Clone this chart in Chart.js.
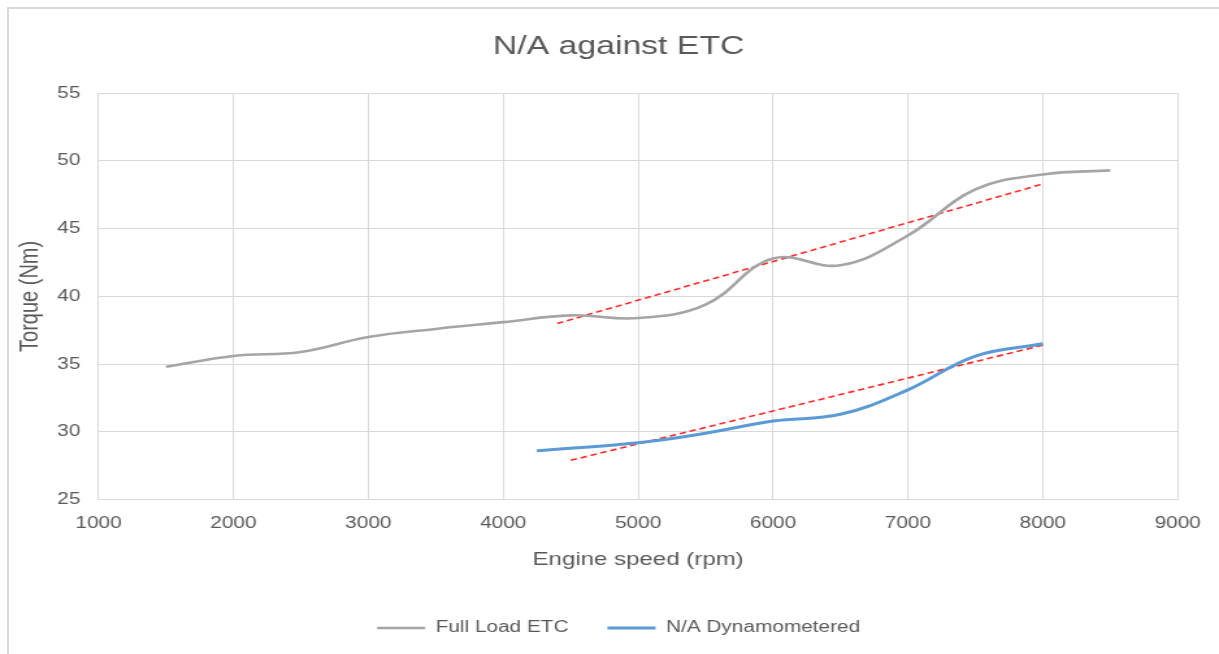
<!DOCTYPE html>
<html>
<head>
<meta charset="utf-8">
<script src="https://cdn.jsdelivr.net/npm/chart.js@4.4.1/dist/chart.umd.min.js"></script>
<style>
  html, body { margin: 0; padding: 0; background: #fff; width: 1219px; height: 654px; overflow: hidden; }
  #frame {
    position: absolute; left: 7px; top: 7px; right: 0; bottom: 0;
    border-top: 2px solid #d9d9d9; border-left: 2px solid #d9d9d9;
  }
  /* chart is laid out narrow, then stretched out to the full width */
  #wrap {
    position: absolute; left: 0; top: 0; width: 938px; height: 654px;
    transform: scaleX(1.2996); transform-origin: 0 0;
  }
</style>
</head>
<body>
<div id="frame"></div>
<div id="wrap"><canvas id="torqueChart"></canvas></div>
<script>
// Full load ETC curve
const rpmFull = [1500, 2000, 2500, 3000, 3500, 4000, 4500, 5000, 5500, 6000, 6500, 7000, 7500, 8000, 8500];
const torqueFull = [34.8, 35.6, 35.9, 37.0, 37.6, 38.1, 38.6, 38.4, 39.4, 42.8, 42.3, 44.5, 47.9, 49.0, 49.3];

// N/A dyno run
const rpmNA = [4250, 5000, 5500, 6000, 6500, 7000, 7500, 8000];
const torqueNA = [28.6, 29.2, 29.9, 30.8, 31.3, 33.1, 35.6, 36.5];

// linear trendlines (end points)
const trendFullRpm = [4400, 8000];
const trendFullTorque = [38.0, 48.3];
const trendNARpm = [4500, 8000];
const trendNATorque = [27.9, 36.4];

const seriesNames = ["Full Load ETC", "N/A Dynamometered"];

const xTicks = [1000, 2000, 3000, 4000, 5000, 6000, 7000, 8000, 9000];
const yTicks = [25, 30, 35, 40, 45, 50, 55];

const toPoints = (xs, ys) => xs.map((x, i) => ({ x: x, y: ys[i] }));

const textColor = "#595959";
const gridColor = "#d9d9d9";
const fontFamily = "'Liberation Sans', Arial, sans-serif";

const ctx = document.getElementById("torqueChart").getContext("2d");

new Chart(ctx, {
  type: "line",
  data: {
    datasets: [
      {
        label: seriesNames[0],
        data: toPoints(rpmFull, torqueFull),
        borderColor: "#a5a5a5",
        backgroundColor: "#a5a5a5",
        borderWidth: 2.6,
        tension: 0.4,
        pointRadius: 0,
      },
      {
        label: seriesNames[1],
        data: toPoints(rpmNA, torqueNA),
        borderColor: "#5b9bd5",
        backgroundColor: "#5b9bd5",
        borderWidth: 3,
        tension: 0.4,
        pointRadius: 0,
      },
      {
        label: "trend full",
        data: toPoints(trendFullRpm, trendFullTorque),
        borderColor: "#ff2a2a",
        borderWidth: 1.6,
        borderDash: [5, 3],
        pointRadius: 0,
      },
      {
        label: "trend na",
        data: toPoints(trendNARpm, trendNATorque),
        borderColor: "#ff2a2a",
        borderWidth: 1.6,
        borderDash: [5, 3],
        pointRadius: 0,
      },
    ],
  },
  options: {
    responsive: true,
    maintainAspectRatio: false,
    animation: false,
    layout: {
      // wide left padding keeps title and legend centred; the y title pulls back into it
      padding: { top: 8, left: 38, right: 24, bottom: 8 },
    },
    plugins: {
      title: {
        display: true,
        text: "N/A against ETC",
        color: textColor,
        font: { family: fontFamily, size: 26, weight: "normal" },
        padding: { top: 23, bottom: 31 },
      },
      legend: {
        position: "bottom",
        labels: {
          color: textColor,
          font: { family: fontFamily, size: 16 },
          boxWidth: 37,
          boxHeight: 0,
          padding: 30,
          filter: (item) => item.datasetIndex < 2,
        },
      },
      tooltip: { enabled: false },
    },
    scales: {
      x: {
        type: "linear",
        min: xTicks[0],
        max: xTicks[xTicks.length - 1],
        afterBuildTicks: (axis) => {
          axis.ticks = xTicks.map((v) => ({ value: v }));
        },
        grid: { color: gridColor, drawTicks: false },
        border: { color: gridColor },
        ticks: {
          color: textColor,
          font: { family: fontFamily, size: 16 },
          padding: 14,
          maxRotation: 0,
          callback: (v) => String(v),
        },
        title: {
          display: true,
          text: "Engine speed (rpm)",
          color: textColor,
          font: { family: fontFamily, size: 18.5 },
          padding: { top: 2, bottom: 19 },
        },
      },
      y: {
        min: yTicks[0],
        max: yTicks[yTicks.length - 1],
        afterBuildTicks: (axis) => {
          axis.ticks = yTicks.map((v) => ({ value: v }));
        },
        grid: { color: gridColor, drawTicks: false },
        border: { color: gridColor },
        ticks: {
          color: textColor,
          font: { family: fontFamily, size: 16 },
          padding: 14,
          callback: (v) => String(v),
        },
        title: {
          display: true,
          text: "Torque (Nm)",
          color: textColor,
          font: { family: fontFamily, size: 20 },
          padding: { top: -27, bottom: -5 },
        },
      },
    },
  },
});
</script>
</body>
</html>
